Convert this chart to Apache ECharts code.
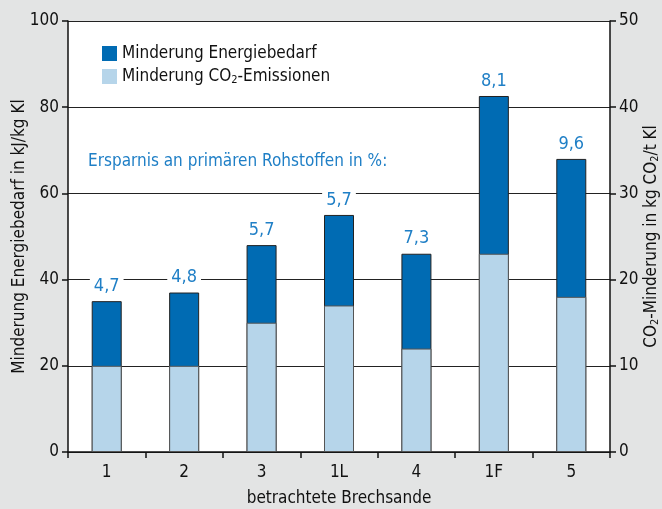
<!DOCTYPE html>
<html>
<head>
<meta charset="utf-8">
<script src="https://cdn.jsdelivr.net/npm/echarts@6/dist/echarts.min.js"></script>
<style>
  html, body { margin: 0; padding: 0; background: #e3e4e4; }
  #chart { width: 662px; height: 509px; }
</style>
</head>
<body>
<div id="chart"></div>
<script>
var categories = ['1', '2', '3', '1L', '4', '1F', '5'];
// Minderung Energiebedarf, kJ/kg Kl (left axis)
var energyValues = [35, 37, 48, 55, 46, 82.6, 68];
// Minderung CO2-Emissionen, kg CO2/t Kl (right axis)
var co2Values = [10, 10, 15, 17, 12, 23, 18];
// Ersparnis an primaeren Rohstoffen in %
var savingLabels = ['4,7', '4,8', '5,7', '5,7', '7,3', '8,1', '9,6'];

var font = '"Liberation Sans Narrow", "DejaVu Sans Condensed", sans-serif';
var dark = '#006bb3';
var light = '#b6d5ea';
var labelBlue = '#1f7fc6';

var dom = document.getElementById('chart');
var myChart = echarts.init(dom);

var subRich = {
    n: { fontFamily: font, fontSize: 17, color: '#111' },
    s: { fontFamily: font, fontSize: 11, color: '#111', verticalAlign: 'bottom', padding: [8, 0, 0, 0] }
};

var option = {
    backgroundColor: '#e3e4e4',
    animation: false,
    textStyle: { fontFamily: font },
    grid: {
        left: 68, right: 52, top: 21, bottom: 57,
        outerBoundsMode: 'none',
        containLabel: false,
        show: true, backgroundColor: '#ffffff', borderWidth: 0
    },
    legend: {
        orient: 'vertical',
        left: 97, top: 40,
        itemWidth: 15, itemHeight: 15, itemGap: 6,
        icon: 'rect',
        itemStyle: { borderWidth: 0 },
        data: ['Minderung Energiebedarf', 'Minderung CO2-Emissionen'],
        formatter: function (name) {
            if (name === 'Minderung CO2-Emissionen') {
                return '{n|Minderung CO}{s|2}{n|-Emissionen}';
            }
            return '{n|' + name + '}';
        },
        textStyle: { fontFamily: font, fontSize: 17, color: '#111', rich: subRich }
    },
    graphic: [{
        type: 'text',
        left: 88, top: 153,
        style: {
            text: 'Ersparnis an primären Rohstoffen in %:',
            fill: labelBlue,
            font: '17px ' + font
        }
    }],
    xAxis: {
        type: 'category',
        data: categories,
        name: 'betrachtete Brechsande',
        nameLocation: 'middle',
        nameGap: 38,
        nameMoveOverlap: false,
        nameTextStyle: { fontFamily: font, fontSize: 17, color: '#111' },
        axisLine: { lineStyle: { color: '#111', width: 1.5 } },
        axisTick: { show: true, length: 6, lineStyle: { color: '#111', width: 1.5 } },
        axisLabel: { fontFamily: font, fontSize: 17, color: '#111', margin: 12 }
    },
    yAxis: [{
        type: 'value',
        min: 0, max: 100, interval: 20,
        position: 'left',
        name: 'Minderung Energiebedarf in kJ/kg Kl',
        nameLocation: 'middle',
        nameGap: 40,
        nameMoveOverlap: false,
        nameTextStyle: { fontFamily: font, fontSize: 17, color: '#111' },
        axisLine: { show: true, lineStyle: { color: '#111', width: 1.5 } },
        axisTick: { show: true, length: 6, lineStyle: { color: '#111', width: 1.5 } },
        axisLabel: { fontFamily: font, fontSize: 17, color: '#111', margin: 9 },
        splitLine: { show: true, lineStyle: { color: '#222', width: 1.2 } }
    }, {
        type: 'value',
        min: 0, max: 50, interval: 10,
        position: 'right',
        name: '{n|CO}{s|2}{n|-Minderung in kg CO}{s|2}{n|/t Kl}',
        nameLocation: 'middle',
        nameGap: 32,
        nameRotate: 90,
        nameMoveOverlap: false,
        nameTextStyle: { fontFamily: font, fontSize: 17, color: '#111', rich: subRich },
        axisLine: { show: true, lineStyle: { color: '#111', width: 1.5 } },
        axisTick: { show: true, length: 6, lineStyle: { color: '#111', width: 1.5 } },
        axisLabel: { fontFamily: font, fontSize: 17, color: '#111', margin: 9 },
        splitLine: { show: false }
    }],
    series: [{
        name: 'Minderung Energiebedarf',
        type: 'bar',
        yAxisIndex: 0,
        barWidth: 30,
        barGap: '-100%',
        data: energyValues,
        itemStyle: { color: dark, borderColor: '#222', borderWidth: 1 },
        label: {
            show: true,
            position: 'top',
            distance: 6,
            formatter: function (p) { return savingLabels[p.dataIndex]; },
            fontFamily: font,
            fontSize: 18,
            color: labelBlue,
            backgroundColor: '#ffffff',
            padding: [0, 4]
        }
    }, {
        name: 'Minderung CO2-Emissionen',
        type: 'bar',
        yAxisIndex: 1,
        barWidth: 30,
        barGap: '-100%',
        data: co2Values,
        itemStyle: { color: light, borderColor: '#555', borderWidth: 1 }
    }]
};

if (option && typeof option === 'object') {
    myChart.setOption(option, true);
}
</script>
</body>
</html>
